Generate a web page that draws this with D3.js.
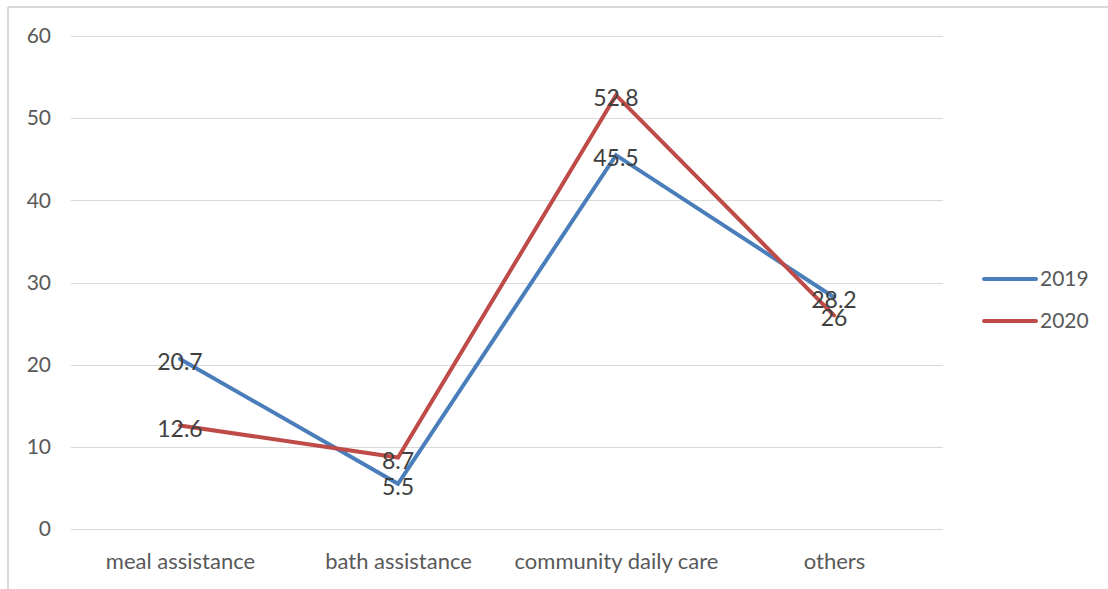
<!DOCTYPE html>
<html>
<head>
<meta charset="utf-8">
<script src="https://cdn.jsdelivr.net/npm/d3@7"></script>
<style>
  html, body { margin: 0; padding: 0; background: #fff; }
  svg { display: block; font-family: Lato, "Open Sans", sans-serif; }
</style>
</head>
<body>
<svg id="chart" width="1108" height="589"></svg>
<script>
const categories = ["meal assistance", "bath assistance", "community daily care", "others"];
const series2019 = [20.7, 5.5, 45.5, 28.2];
const series2020 = [12.6, 8.7, 52.8, 26];
const seriesNames = ["2019", "2020"];
const seriesColors = ["#4a7ebb", "#be4b48"];
const yTicks = [0, 10, 20, 30, 40, 50, 60];

const svg = d3.select("#chart");

// outer frame (top and left edges visible)
svg.append("line").attr("x1", 8).attr("x2", 1108).attr("y1", 7).attr("y2", 7)
  .attr("stroke", "#d9d9d9").attr("stroke-width", 2);
svg.append("line").attr("x1", 8).attr("x2", 8).attr("y1", 7).attr("y2", 589)
  .attr("stroke", "#d9d9d9").attr("stroke-width", 2);

const x = d3.scalePoint().domain(categories).range([180, 834]);
const y = d3.scaleLinear().domain([0, 60]).range([529, 36]);

// horizontal gridlines
svg.append("g").selectAll("line").data(yTicks).join("line")
  .attr("x1", 71).attr("x2", 943)
  .attr("y1", d => Math.round(y(d)) + 0.5).attr("y2", d => Math.round(y(d)) + 0.5)
  .attr("stroke", "#d9d9d9").attr("stroke-width", 1);

// y axis labels
const yAxis = d3.axisLeft(y).tickValues(yTicks).tickSize(0).tickPadding(0);
const yg = svg.append("g").attr("transform", "translate(51,0)").call(yAxis);
yg.select(".domain").remove();
yg.selectAll("text").attr("font-size", 21).attr("fill", "#595959")
  .attr("font-family", "Lato, 'Open Sans', sans-serif");

// category labels
const xAxis = d3.axisBottom(x).tickSize(0).tickPadding(0);
const xg = svg.append("g").attr("transform", "translate(0,553)").call(xAxis);
xg.select(".domain").remove();
xg.selectAll("text").attr("font-size", 22).attr("fill", "#595959")
  .attr("font-family", "Lato, 'Open Sans', sans-serif");

const data = [series2019, series2020];
const line = d3.line().x((d, i) => x(categories[i])).y(d => y(d));

data.forEach((vals, s) => {
  svg.append("path").datum(vals).attr("d", line)
    .attr("fill", "none").attr("stroke", seriesColors[s])
    .attr("stroke-width", 4).attr("stroke-linejoin", "miter").attr("stroke-linecap", "round");
});

// value labels, centred on each point
data.forEach((vals, s) => {
  svg.append("g").selectAll("text").data(vals).join("text")
    .attr("x", (d, i) => x(categories[i]))
    .attr("y", d => y(d) + 3)
    .attr("dy", "0.35em")
    .attr("text-anchor", "middle")
    .attr("font-size", 23).attr("fill", "#404040")
    .text(d => d);
});

// legend
const legend = svg.append("g");
seriesNames.forEach((name, i) => {
  const ly = 279 + i * 42;
  legend.append("line").attr("x1", 984).attr("x2", 1036).attr("y1", ly).attr("y2", ly)
    .attr("stroke", seriesColors[i]).attr("stroke-width", 4).attr("stroke-linecap", "round");
  legend.append("text").attr("x", 1040).attr("y", ly).attr("dy", "0.35em")
    .attr("font-size", 21).attr("fill", "#595959").text(name);
});
</script>
</body>
</html>
